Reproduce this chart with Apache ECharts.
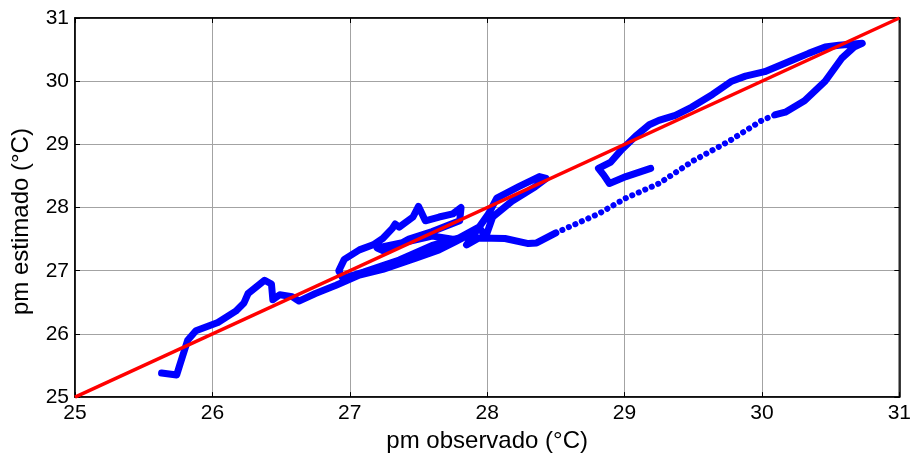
<!DOCTYPE html>
<html>
<head>
<meta charset="utf-8">
<script src="https://cdn.jsdelivr.net/npm/echarts@6/dist/echarts.min.js"></script>
<style>
html,body{margin:0;padding:0;background:#fff;}
#chart{width:914px;height:458px;}
</style>
</head>
<body>
<div id="chart"></div>
<script>
// axis ticks
const xTicks = [25, 26, 27, 28, 29, 30, 31];
const yTicks = [25, 26, 27, 28, 29, 30, 31];

// blue trajectory (pm observado, pm estimado) – dense part from low temps through the tangle
const pathLow = [
  [25.63,25.38],[25.74,25.35],[25.76,25.49],[25.82,25.90],[25.88,26.05],[26.04,26.18],
  [26.17,26.36],[26.23,26.49],[26.26,26.64],[26.38,26.85],[26.43,26.79],[26.44,26.54],
  [26.49,26.62],[26.58,26.59],[26.63,26.52],[26.75,26.64],[26.90,26.77],[27.07,26.93],
  [27.24,27.02],[27.48,27.20],[27.65,27.33],[27.77,27.46],[27.85,27.55],[27.60,27.40],
  [27.36,27.17],[27.10,26.98],[26.95,26.88],[26.92,27.00],[26.96,27.18],[27.07,27.33],
  [27.17,27.41],[27.24,27.51],[27.31,27.67],[27.33,27.74],[27.36,27.69],[27.46,27.85],
  [27.50,28.02],[27.55,27.79],[27.65,27.85],[27.75,27.90],[27.81,28.00],[27.80,27.79],
  [27.60,27.62],[27.43,27.50],[27.26,27.30],[27.20,27.36],[27.40,27.45],[27.60,27.55],
  [27.77,27.49],[27.94,27.69],[27.99,27.54],[28.04,27.85],[28.18,28.10],[28.35,28.33],
  [28.43,28.46],[28.38,28.49],[28.23,28.33],[28.07,28.15],[28.01,27.90],[27.85,27.41],
  [27.94,27.52],[28.13,27.51],[28.30,27.43],[28.36,27.44],[28.50,27.60]
];
// sparse (dotted) rise
const pathRise = [
  [28.50,27.60],[28.81,27.90],[29.01,28.15],[29.25,28.38],[29.50,28.74],[29.76,29.05],
  [30.00,29.38],[30.10,29.47]
];
// dense part at high temps and return
const pathHigh = [
  [30.10,29.47],[30.17,29.51],[30.31,29.69],[30.46,30.00],[30.58,30.36],[30.67,30.54],
  [30.73,30.60],[30.72,30.63],[30.56,30.57],[30.46,30.54],[30.34,30.44],[30.22,30.33],
  [30.02,30.15],[29.88,30.08],[29.78,30.00],[29.64,29.79],[29.49,29.59],[29.37,29.46],
  [29.25,29.38],[29.18,29.31],[29.08,29.13],[28.98,28.92],[28.90,28.72],[28.81,28.62],
  [28.85,28.51],[28.89,28.38],[29.01,28.49],[29.19,28.62]
];
// 1:1 reference line
const identity = [[25,25],[31,31]];

const font = 'Liberation Sans, Arial, Helvetica, sans-serif';
const chart = echarts.init(document.getElementById('chart'), null, {renderer:'canvas'});

const baseAxis = {
  type:'value', min:25, max:31, interval:1,
  axisLine:{show:true, onZero:false, lineStyle:{color:'#000', width:1.5}},
  axisTick:{show:true, inside:true, length:5, lineStyle:{color:'#000', width:1}},
  splitLine:{show:true, lineStyle:{color:'#a3a3a3', width:1}},
  axisLabel:{color:'#000', fontSize:21, fontFamily:font}
};

chart.setOption({
  animation:false,
  backgroundColor:'#fff',
  grid:{left:75, right:13, top:18, bottom:50, show:true, borderColor:'#000', borderWidth:1.5, backgroundColor:'transparent'},
  xAxis:[
    Object.assign({}, baseAxis, {position:'bottom',
      axisLabel:Object.assign({}, baseAxis.axisLabel, {margin:6, formatter:v=>xTicks.includes(v)?String(v):''}),
      name:'pm observado (°C)', nameLocation:'middle', nameGap:27,
      nameTextStyle:{color:'#000', fontSize:24, fontFamily:font}}),
    Object.assign({}, baseAxis, {position:'top', axisLabel:{show:false}, splitLine:{show:false}})
  ],
  yAxis:[
    Object.assign({}, baseAxis, {position:'left',
      axisLabel:Object.assign({}, baseAxis.axisLabel, {margin:6, formatter:v=>yTicks.includes(v)?String(v):''}),
      name:'pm estimado (°C)', nameLocation:'middle', nameGap:42, nameRotate:90,
      nameTextStyle:{color:'#000', fontSize:24, fontFamily:font, padding:[0,28,0,0]}}),
    Object.assign({}, baseAxis, {position:'right', axisLabel:{show:false}, splitLine:{show:false}})
  ],
  series:[
    {type:'line', data:pathLow, showSymbol:false, z:2,
     lineStyle:{color:'#0000ff', width:7, cap:'round', join:'round'}},
    {type:'line', data:pathRise, showSymbol:false, z:2,
     lineStyle:{color:'#0000ff', width:6, type:[0.1,7], cap:'round', join:'round'}},
    {type:'line', data:pathHigh, showSymbol:false, z:2,
     lineStyle:{color:'#0000ff', width:7, cap:'round', join:'round'}},
    {type:'line', data:identity, showSymbol:false, z:3,
     lineStyle:{color:'#ff0000', width:3.5}}
  ]
});
</script>
</body>
</html>
